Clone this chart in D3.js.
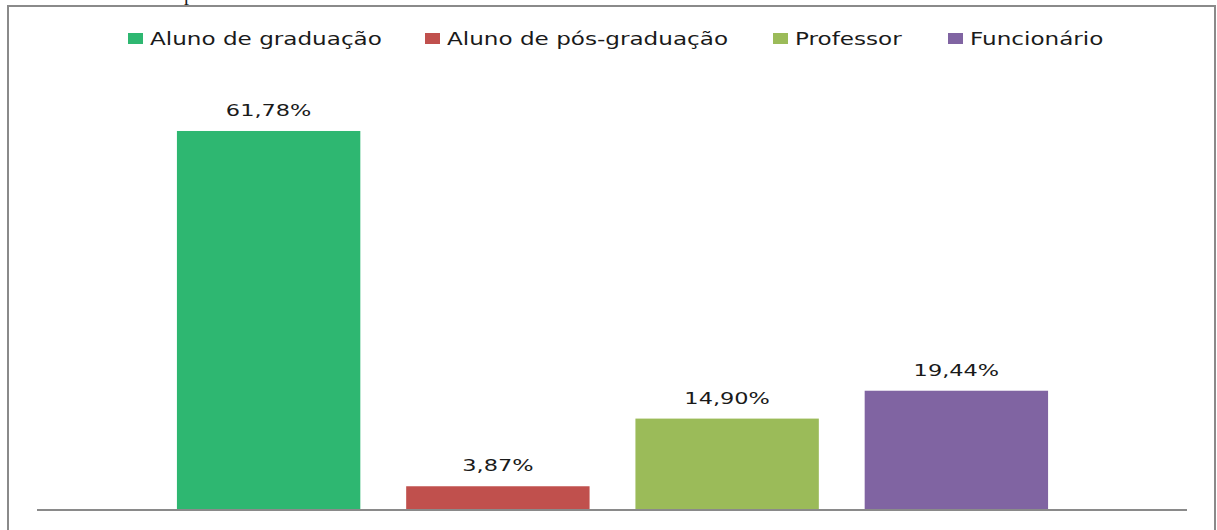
<!DOCTYPE html>
<html>
<head>
<meta charset="utf-8">
<script src="https://cdn.jsdelivr.net/npm/d3@7/dist/d3.min.js"></script>
<style>
  body { margin: 0; background: #fff; }
  text { font-family: "DejaVu Sans", sans-serif; fill: #1a1a1a; }
</style>
</head>
<body>
<div id="chart"></div>
<script>
// dados
var series = ["Aluno de graduação", "Aluno de pós-graduação", "Professor", "Funcionário"];
var values = [61.78, 3.87, 14.90, 19.44];
var labels = ["61,78%", "3,87%", "14,90%", "19,44%"];
var colors = ["#2eb771", "#c0504d", "#9bbb59", "#8064a2"];

var width = 1217, height = 530;
var sx = 1.32; // texto esticado na horizontal

var svg = d3.select("#chart").append("svg")
  .attr("width", width)
  .attr("height", height);

// moldura
svg.append("rect")
  .attr("x", 8).attr("y", 6)
  .attr("width", 1207).attr("height", 540)
  .attr("fill", "none")
  .attr("stroke", "#8a8a8a")
  .attr("stroke-width", 2);

// resto do texto acima do grafico (cortado na borda, como no original)
svg.append("text")
  .attr("x", 184).attr("y", 0)
  .style("font-family", "'Liberation Serif', serif")
  .style("font-size", "20px")
  .text("p");

var y = d3.scaleLinear()
  .domain([0, 70])
  .range([510, 510 - 70 * 6.135]);

var x = d3.scaleBand()
  .domain(series)
  .range([154, 1071])
  .paddingInner(0.2)
  .paddingOuter(0.1);

svg.selectAll(".bar")
  .data(values)
  .enter()
  .append("rect")
  .attr("class", "bar")
  .attr("x", function(d, i) { return x(series[i]); })
  .attr("y", function(d) { return y(d); })
  .attr("width", x.bandwidth())
  .attr("height", function(d) { return y(0) - y(d); })
  .attr("fill", function(d, i) { return colors[i]; });

svg.selectAll(".lbl")
  .data(values)
  .enter()
  .append("text")
  .attr("class", "lbl")
  .attr("text-anchor", "middle")
  .attr("transform", function(d, i) {
    return "translate(" + (x(series[i]) + x.bandwidth() / 2) + "," + (y(d) - 15) + ") scale(1.36,1)";
  })
  .style("font-size", "16.5px")
  .text(function(d, i) { return labels[i]; });

// eixo
svg.append("line")
  .attr("x1", 37).attr("x2", 1187)
  .attr("y1", y(0)).attr("y2", y(0))
  .attr("stroke", "#8a8a8a")
  .attr("stroke-width", 2);

// legenda
var legendX = [128, 425, 773, 948];
var legend = svg.selectAll(".leg")
  .data(series)
  .enter()
  .append("g")
  .attr("class", "leg")
  .attr("transform", function(d, i) { return "translate(" + legendX[i] + ",33)"; });

legend.append("rect")
  .attr("width", 15)
  .attr("height", 11)
  .attr("fill", function(d, i) { return colors[i]; });

legend.append("text")
  .attr("transform", "translate(22,12) scale(" + sx + ",1)")
  .style("font-size", "17.5px")
  .text(function(d) { return d; });
</script>
</body>
</html>
